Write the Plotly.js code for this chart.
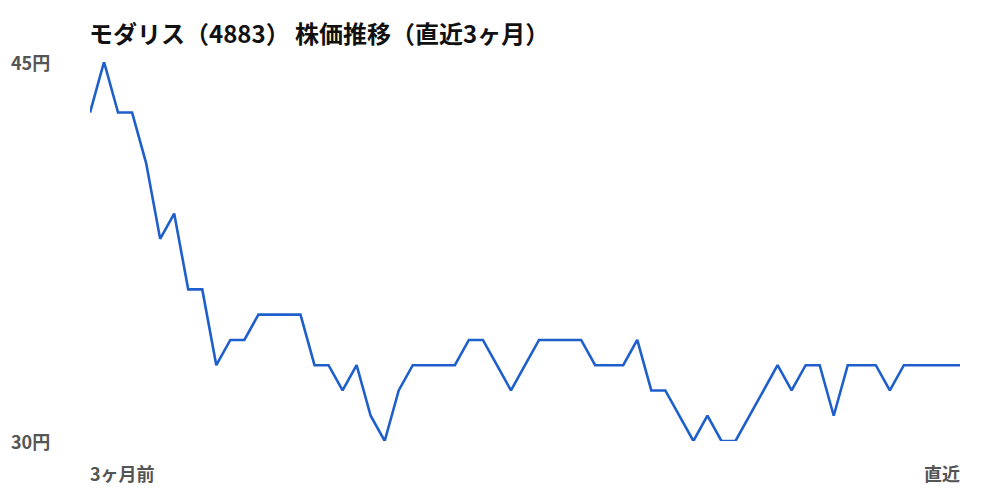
<!DOCTYPE html>
<html>
<head>
<meta charset="utf-8">
<script src="https://cdn.plot.ly/plotly-3.0.1.min.js"></script>
<style>
  html, body { margin: 0; padding: 0; background: #fff; }
  #chart { width: 1000px; height: 500px; }
</style>
</head>
<body>
<div id="chart"></div>
<script>
/* global Plotly */
const chartTitle = "モダリス（4883） 株価推移（直近3ヶ月）";

// daily closes, oldest first
const prices = [
  43, 45, 43, 43, 41, 38, 39, 36, 36, 33,
  34, 34, 35, 35, 35, 35, 33, 33, 32, 33,
  31, 30, 32, 33, 33, 33, 33, 34, 34, 33,
  32, 33, 34, 34, 34, 34, 33, 33, 33, 34,
  32, 32, 31, 30, 31, 30, 30, 31, 32, 33,
  32, 33, 33, 31, 33, 33, 33, 32, 33, 33,
  33, 33, 33,
];
const days = prices.map((_, i) => i);

const yTickVals = [30, 45];
const yTickText = ["30円", "45円"];
const xEndLabels = ["3ヶ月前", "直近"];

const font = "'Noto Sans CJK JP', 'Noto Sans', sans-serif";
const labelFont = { family: font, size: 18, color: "#555555" };

function getAnnotations() {
  const yNotes = yTickVals.map((v, i) => ({
    xref: "paper",
    yref: "y",
    x: -80 / 870,
    xshift: -1,
    y: v,
    xanchor: "left",
    yanchor: "middle",
    text: "<b>" + yTickText[i] + "</b>",
    showarrow: false,
    font: labelFont,
  }));
  const xNotes = [
    {
      xref: "x",
      yref: "paper",
      x: days[0],
      xshift: -2,
      y: -32 / 379,
      xanchor: "left",
      yanchor: "middle",
      text: "<b>" + xEndLabels[0] + "</b>",
      showarrow: false,
      font: labelFont,
    },
    {
      xref: "x",
      yref: "paper",
      x: days[days.length - 1],
      xshift: 2,
      y: -32 / 379,
      xanchor: "right",
      yanchor: "middle",
      text: "<b>" + xEndLabels[1] + "</b>",
      showarrow: false,
      font: labelFont,
    },
  ];
  return yNotes.concat(xNotes);
}

const trace = {
  x: days,
  y: prices,
  type: "scatter",
  mode: "lines",
  line: { color: "#1f5fcc", width: 2.6 },
  hoverinfo: "skip",
};

const layout = {
  width: 1000,
  height: 500,
  paper_bgcolor: "#ffffff",
  plot_bgcolor: "#ffffff",
  margin: { l: 90, r: 40, t: 62, b: 59, pad: 0 },
  showlegend: false,
  title: {
    text: "<b>" + chartTitle + "</b>",
    font: { family: font, size: 24, color: "#111111" },
    xref: "container",
    x: 89 / 1000,
    xanchor: "left",
    yref: "container",
    y: 1 - 35 / 500,
    yanchor: "middle",
  },
  xaxis: {
    range: [days[0], days[days.length - 1]],
    showgrid: false,
    zeroline: false,
    showline: false,
    showticklabels: false,
    ticks: "",
    fixedrange: true,
  },
  yaxis: {
    range: [yTickVals[0], yTickVals[1]],
    showgrid: false,
    zeroline: false,
    showline: false,
    showticklabels: false,
    ticks: "",
    fixedrange: true,
  },
  annotations: getAnnotations(),
};

Plotly.newPlot(document.getElementById("chart"), [trace], layout, {
  displayModeBar: false,
  staticPlot: true,
});
</script>
</body>
</html>
